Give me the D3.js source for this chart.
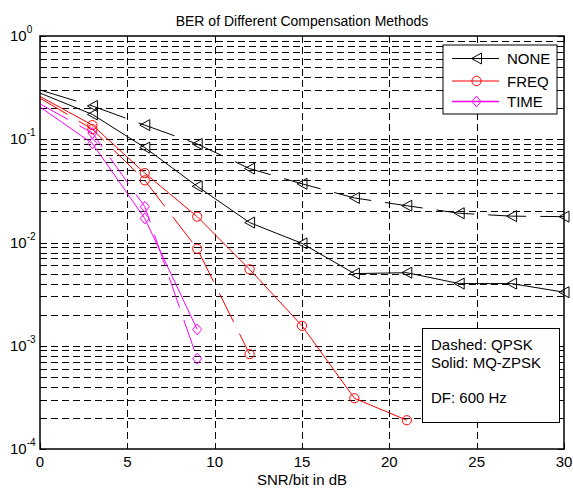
<!DOCTYPE html>
<html>
<head>
<meta charset="utf-8">
<script src="https://cdn.jsdelivr.net/npm/d3@7"></script>
<style>
  html, body { margin: 0; padding: 0; background: #fff; }
  svg { display: block; font-family: "Liberation Sans", Arial, sans-serif; }
</style>
</head>
<body>
<svg id="chart" width="573" height="489"></svg>
<script>
// ---- data ----
const snrNone = [0, 3, 6, 9, 12, 15, 18, 21, 24, 27, 30];
const noneQPSK = [0.30, 0.21, 0.137, 0.090, 0.052, 0.037, 0.027, 0.0227, 0.0192, 0.0180, 0.0178];
const noneMQ   = [0.28, 0.174, 0.083, 0.035, 0.0156, 0.0098, 0.0050, 0.0051, 0.0040, 0.0040, 0.0033];

const snrFreqQPSK = [0, 3, 6, 9, 12];
const freqQPSK = [0.25, 0.125, 0.040, 0.0087, 0.00083];
const snrFreqMQ = [0, 3, 6, 9, 12, 15, 18, 21];
const freqMQ   = [0.26, 0.137, 0.047, 0.0178, 0.0055, 0.00156, 0.00031, 0.00019];

const snrTime = [0, 3, 6, 9];
const timeQPSK = [0.22, 0.115, 0.0222, 0.00075];
const timeMQ   = [0.205, 0.091, 0.0171, 0.00144];

const xTicks = [0, 5, 10, 15, 20, 25, 30];
const yDecades = [-4, -3, -2, -1, 0];
const legendLabels = ["NONE", "FREQ", "TIME"];
const noteLines = ["Dashed: QPSK", "Solid: MQ-ZPSK", "", "DF: 600 Hz"];
const titleText = "BER of Different Compensation Methods";
const xLabelText = "SNR/bit in dB";

// ---- layout ----
const L = 40, R = 564, T = 36, B = 449;
const svg = d3.select("#chart");
const x = d3.scaleLinear().domain([0, 30]).range([L, R]);
const y = d3.scaleLog().domain([1e-4, 1]).range([B, T]);

const minorVals = [];
yDecades.slice(0, -1).forEach(e => {
  for (let m = 2; m <= 9; m++) minorVals.push(m * Math.pow(10, e));
});
const majorVals = yDecades.map(e => Math.pow(10, e));

// grid
const grid = svg.append("g").attr("stroke", "#000").attr("stroke-width", 1)
  .attr("stroke-dasharray", "7,4").attr("fill", "none");
[...minorVals, ...majorVals.slice(1, -1)].forEach(v => {
  grid.append("line").attr("x1", L).attr("x2", R)
    .attr("y1", Math.round(y(v)) + 0.5).attr("y2", Math.round(y(v)) + 0.5);
});
xTicks.slice(1, -1).forEach(v => {
  grid.append("line").attr("y1", T).attr("y2", B)
    .attr("x1", Math.round(x(v)) + 0.5).attr("x2", Math.round(x(v)) + 0.5);
});

// ticks
const ticks = svg.append("g").attr("stroke", "#000").attr("stroke-width", 1);
majorVals.forEach(v => {
  const yy = Math.round(y(v)) + 0.5;
  ticks.append("line").attr("x1", L).attr("x2", L + 6).attr("y1", yy).attr("y2", yy);
  ticks.append("line").attr("x1", R).attr("x2", R - 6).attr("y1", yy).attr("y2", yy);
});
minorVals.forEach(v => {
  const yy = Math.round(y(v)) + 0.5;
  ticks.append("line").attr("x1", L).attr("x2", L + 3).attr("y1", yy).attr("y2", yy);
  ticks.append("line").attr("x1", R).attr("x2", R - 3).attr("y1", yy).attr("y2", yy);
});
xTicks.forEach(v => {
  const xx = Math.round(x(v)) + 0.5;
  ticks.append("line").attr("x1", xx).attr("x2", xx).attr("y1", B).attr("y2", B - 6);
  ticks.append("line").attr("x1", xx).attr("x2", xx).attr("y1", T).attr("y2", T + 6);
});

// series
const series = [
  { xs: snrNone, ys: noneQPSK, color: "#000000", dash: "38,14", marker: "tri" },
  { xs: snrNone, ys: noneMQ, color: "#000000", dash: null, marker: "tri" },
  { xs: snrFreqQPSK, ys: freqQPSK, color: "#ff0000", dash: "32,13", marker: "circ" },
  { xs: snrFreqMQ, ys: freqMQ, color: "#ff0000", dash: null, marker: "circ" },
  { xs: snrTime, ys: timeQPSK, color: "#ff00ff", dash: "32,13", marker: "diam" },
  { xs: snrTime, ys: timeMQ, color: "#ff00ff", dash: null, marker: "diam" }
];

function drawMarker(g, type, cx, cy, color) {
  if (type === "tri") {
    g.append("path").attr("d", `M${cx - 5},${cy} L${cx + 5},${cy - 5.5} L${cx + 5},${cy + 5.5} Z`)
      .attr("fill", "none").attr("stroke", color).attr("stroke-width", 1);
  } else if (type === "circ") {
    g.append("circle").attr("cx", cx).attr("cy", cy).attr("r", 4.6)
      .attr("fill", "none").attr("stroke", color).attr("stroke-width", 1);
  } else {
    g.append("path").attr("d", `M${cx},${cy - 5.5} L${cx + 4.5},${cy} L${cx},${cy + 5.5} L${cx - 4.5},${cy} Z`)
      .attr("fill", "none").attr("stroke", color).attr("stroke-width", 1);
  }
}

const plot = svg.append("g");
const line = d3.line().x(d => x(d[0])).y(d => y(d[1]));
series.forEach(s => {
  const pts = s.xs.map((v, i) => [v, s.ys[i]]);
  plot.append("path").attr("d", line(pts)).attr("fill", "none")
    .attr("stroke", s.color).attr("stroke-width", 1)
    .attr("stroke-dasharray", s.dash);
  pts.forEach((p, i) => { if (i > 0) drawMarker(plot, s.marker, x(p[0]), y(p[1]), s.color); });
});

// frame
svg.append("rect").attr("x", L).attr("y", T).attr("width", R - L).attr("height", B - T)
  .attr("fill", "none").attr("stroke", "#000").attr("stroke-width", 1.5);

// y labels
yDecades.forEach(e => {
  const t = svg.append("text").attr("x", 10).attr("y", y(Math.pow(10, e)) + 5)
    .attr("font-size", 15).attr("fill", "#000");
  t.append("tspan").text("10");
  t.append("tspan").attr("font-size", 10).attr("dy", -8).text(String(e));
});
// x labels
xTicks.forEach(v => {
  svg.append("text").attr("x", x(v)).attr("y", 467).attr("text-anchor", "middle")
    .attr("font-size", 15).attr("fill", "#000").text(v);
});
svg.append("text").attr("x", (L + R) / 2).attr("y", 485).attr("text-anchor", "middle")
  .attr("font-size", 15).text(xLabelText);
svg.append("text").attr("x", (L + R) / 2).attr("y", 26).attr("text-anchor", "middle")
  .attr("font-size", 14).text(titleText);

// legend
const lg = svg.append("g");
lg.append("rect").attr("x", 443).attr("y", 45).attr("width", 114).attr("height", 69)
  .attr("fill", "#fff").attr("stroke", "#000").attr("stroke-width", 1);
const legendStyles = [["#000000", "tri"], ["#ff0000", "circ"], ["#ff00ff", "diam"]];
const legendY = [58.5, 81, 101.5];
legendLabels.forEach((lab, i) => {
  const [c, m] = legendStyles[i];
  const yy = legendY[i];
  lg.append("line").attr("x1", 452).attr("x2", 499).attr("y1", yy).attr("y2", yy)
    .attr("stroke", c).attr("stroke-width", i === 2 ? 1.5 : 1);
  drawMarker(lg, m, 476.5, yy, c);
  lg.append("text").attr("x", 507).attr("y", yy + 5.5).attr("font-size", 15).text(lab);
});

// annotation box
const nb = svg.append("g");
nb.append("rect").attr("x", 422.5).attr("y", 328.5).attr("width", 137).attr("height", 94)
  .attr("fill", "#fff").attr("stroke", "#000").attr("stroke-width", 1);
noteLines.forEach((t, i) => {
  if (t) nb.append("text").attr("x", 431).attr("y", 350 + i * 17.8).attr("font-size", 15).text(t);
});
</script>
</body>
</html>
